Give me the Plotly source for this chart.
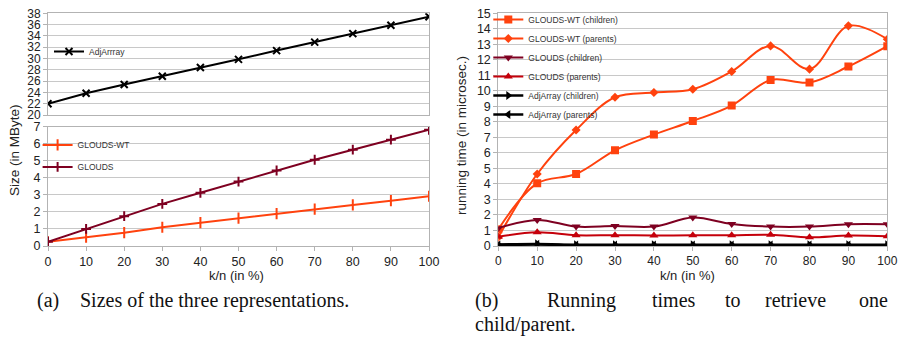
import plotly.graph_objects as go

W, H = 898, 346

# ---------------- data ----------------
k_percent = [0, 10, 20, 30, 40, 50, 60, 70, 80, 90, 100]

size_adjarray = [22.0, 23.85, 25.4, 26.85, 28.4, 29.85, 31.4, 32.9, 34.4, 35.9, 37.4]
size_glouds_wt = [0.25, 0.52, 0.78, 1.1, 1.37, 1.63, 1.9, 2.16, 2.41, 2.66, 2.92]
size_glouds = [0.25, 1.0, 1.75, 2.47, 3.12, 3.78, 4.43, 5.06, 5.65, 6.24, 6.82]

time_gwt_children = [1.08, 4.04, 4.64, 6.17, 7.18, 8.06, 9.05, 10.7, 10.54, 11.57, 12.88]
time_gwt_parents = [0.56, 4.64, 7.48, 9.59, 9.89, 10.1, 11.25, 12.9, 11.4, 14.19, 13.33]
time_gl_children = [1.15, 1.68, 1.25, 1.29, 1.25, 1.83, 1.42, 1.25, 1.25, 1.4, 1.4]
time_gl_parents = [0.6, 0.88, 0.69, 0.7, 0.68, 0.69, 0.69, 0.72, 0.56, 0.67, 0.63]
time_adj_children = [0.1, 0.13, 0.08, 0.08, 0.08, 0.08, 0.08, 0.08, 0.08, 0.08, 0.08]
time_adj_parents = [0.06, 0.1, 0.05, 0.05, 0.05, 0.05, 0.05, 0.05, 0.05, 0.05, 0.05]

size_ticks_top = list(range(20, 39, 2))
size_ticks_bottom = list(range(0, 8))
time_ticks = list(range(0, 16))

# ---------------- styles ----------------
C_WT = "#ff420e"
C_GL = "#7e0021"
C_GLP = "#c5000b"
C_ADJ = "#000000"
GRID = "#c8c8c8"
AXL = "#b3b3b3"
FONT = "Liberation Sans"
SERIF = "Liberation Serif"


def px(x):
    return x / W


def py(y):
    return 1 - y / H


fig = go.Figure()

# left chart, bottom panel
fig.add_trace(go.Scatter(x=k_percent, y=size_glouds_wt, name="GLOUDS-WT", mode="lines+markers",
                         line=dict(color=C_WT, width=2),
                         marker=dict(symbol="line-ns", size=8, line=dict(color=C_WT, width=2)),
                         xaxis="x", yaxis="y", legend="legend", legendgroup="a"))
fig.add_trace(go.Scatter(x=k_percent, y=size_glouds, name="GLOUDS", mode="lines+markers",
                         line=dict(color=C_GL, width=2),
                         marker=dict(symbol="cross-thin", size=7, line=dict(color=C_GL, width=2)),
                         xaxis="x", yaxis="y", legend="legend", legendgroup="b"))
# left chart, top panel
fig.add_trace(go.Scatter(x=k_percent, y=size_adjarray, name="AdjArrray", mode="lines+markers",
                         line=dict(color=C_ADJ, width=2),
                         marker=dict(symbol="x-thin", size=7, line=dict(color=C_ADJ, width=2)),
                         xaxis="x2", yaxis="y2", legend="legend2"))

# right chart
fig.add_trace(go.Scatter(x=k_percent, y=time_gwt_children, name="GLOUDS-WT (children)",
                         mode="lines+markers", line=dict(color=C_WT, width=2, shape="spline"),
                         marker=dict(symbol="square", size=8, color=C_WT),
                         xaxis="x3", yaxis="y3", legend="legend3"))
fig.add_trace(go.Scatter(x=k_percent, y=time_gwt_parents, name="GLOUDS-WT (parents)",
                         mode="lines+markers", line=dict(color=C_WT, width=2, shape="spline"),
                         marker=dict(symbol="diamond", size=7, color=C_WT),
                         xaxis="x3", yaxis="y3", legend="legend3"))
fig.add_trace(go.Scatter(x=k_percent, y=time_gl_children, name="GLOUDS (children)",
                         mode="lines+markers", line=dict(color=C_GL, width=2, shape="spline"),
                         marker=dict(symbol="triangle-down", size=8, color=C_GL),
                         xaxis="x3", yaxis="y3", legend="legend3"))
fig.add_trace(go.Scatter(x=k_percent, y=time_gl_parents, name="GLOUDS (parents)",
                         mode="lines+markers", line=dict(color=C_GLP, width=2, shape="spline"),
                         marker=dict(symbol="triangle-up", size=8, color=C_GLP),
                         xaxis="x3", yaxis="y3", legend="legend3"))
fig.add_trace(go.Scatter(x=k_percent, y=time_adj_children, name="AdjArray (children)",
                         mode="lines+markers", line=dict(color=C_ADJ, width=2.5, shape="spline"),
                         marker=dict(symbol="triangle-right", size=8, color=C_ADJ),
                         xaxis="x3", yaxis="y3", legend="legend3"))
fig.add_trace(go.Scatter(x=k_percent, y=time_adj_parents, name="AdjArray (parents)",
                         mode="lines+markers", line=dict(color=C_ADJ, width=2.5, shape="spline"),
                         marker=dict(symbol="triangle-left", size=8, color=C_ADJ),
                         xaxis="x3", yaxis="y3", legend="legend3"))


def axis_style(size):
    return dict(showline=True, linecolor=AXL, linewidth=1, mirror=True,
                ticks="outside", ticklen=4, tickcolor=AXL,
                tickfont=dict(family=FONT, size=size, color="#222"), zeroline=False)


left_x = [px(48), px(429)]
right_x = [px(498.3), px(887.3)]
legend_font = dict(family=FONT, size=8.5, color="#333")

fig.update_layout(
    width=W, height=H,
    margin=dict(l=0, r=0, t=0, b=0, autoexpand=False),
    paper_bgcolor="white", plot_bgcolor="white",
    font=dict(family=FONT, size=13, color="#222"),
    xaxis=dict(domain=left_x, range=[0, 100], tickvals=k_percent, showgrid=False,
               anchor="y", **axis_style(12.5)),
    yaxis=dict(domain=[py(246), py(126.7)], range=[0, 7], tickvals=size_ticks_bottom,
               showgrid=True, gridcolor=GRID, gridwidth=1, anchor="x", **axis_style(12.5)),
    xaxis2=dict(domain=left_x, range=[0, 100], showgrid=False, showticklabels=False,
                anchor="y2", showline=True, linecolor=AXL, mirror=True, ticks="",
                zeroline=False),
    yaxis2=dict(domain=[py(115), py(13.3)], range=[20, 38], tickvals=size_ticks_top,
                showgrid=True, gridcolor=GRID, gridwidth=1, anchor="x2", **axis_style(12)),
    xaxis3=dict(domain=right_x, range=[0, 100], tickvals=k_percent, showgrid=False,
                anchor="y3", **axis_style(12)),
    yaxis3=dict(domain=[py(246), py(13.3)], range=[0, 15], tickvals=time_ticks,
                showgrid=True, gridcolor=GRID, gridwidth=1, anchor="x3", **axis_style(12.5)),
    legend=dict(x=px(37.6), y=py(130.4), xanchor="left", yanchor="top",
                bgcolor="rgba(0,0,0,0)", font=legend_font, tracegroupgap=3),
    legend2=dict(x=px(49), y=py(37), xanchor="left", yanchor="top",
                 bgcolor="rgba(0,0,0,0)", font=legend_font),
    legend3=dict(x=px(488.3), y=py(5), xanchor="left", yanchor="top",
                 bgcolor="rgba(0,0,0,0)", font=legend_font),
    showlegend=True,
)

annotations = [
    dict(text="Size (in MByte)", x=px(15), y=py(150), textangle=-90,
         font=dict(family=FONT, size=13.5, color="#222")),
    dict(text="running time (in microsec.)", x=px(461), y=py(136), textangle=-90,
         font=dict(family=FONT, size=13.5, color="#222")),
    dict(text="k/n (in %)", x=px(236), y=py(275), font=dict(family=FONT, size=13, color="#222")),
    dict(text="k/n (in %)", x=px(687), y=py(275), font=dict(family=FONT, size=13, color="#222")),
]
cap_font = dict(family=SERIF, size=20, color="#111")
caption_words = [
    ("(a)", 35, 300, "left"), ("Sizes of the three representations.", 78, 300, "left"),
    ("(b)", 473, 300, "left"), ("Running", 545, 300, "left"), ("times", 650, 300, "left"),
    ("to", 723, 300, "left"), ("retrieve", 763, 300, "left"), ("one", 890, 300, "right"),
    ("child/parent.", 473, 324, "left"),
]
for t, x, y, anc in caption_words:
    annotations.append(dict(text=t, x=px(x), y=py(y), xanchor=anc, font=cap_font))

for a in annotations:
    a.setdefault("xanchor", "center")
    a.update(xref="paper", yref="paper", yanchor="middle", showarrow=False)
fig.update_layout(annotations=annotations)

fig.write_html("out.html", config={"displayModeBar": False},
               post_script="document.body.style.margin='0px';")
